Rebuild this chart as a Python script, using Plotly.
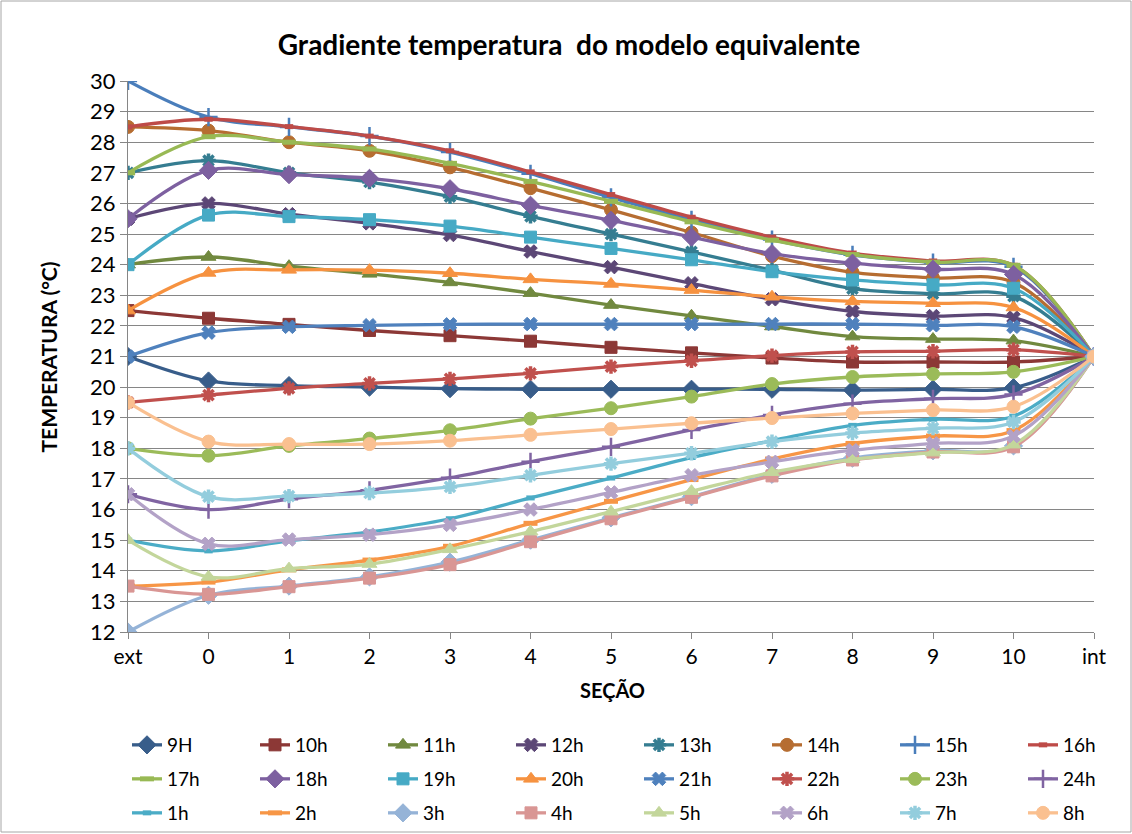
import plotly.graph_objects as go

categories = ["ext", "0", "1", "2", "3", "4", "5", "6", "7", "8", "9", "10", "int"]

series_names = ["9H", "10h", "11h", "12h", "13h", "14h", "15h", "16h",
                "17h", "18h", "19h", "20h", "21h", "22h", "23h", "24h",
                "1h", "2h", "3h", "4h", "5h", "6h", "7h", "8h"]

v_9H  = [21.0, 20.2, 20.05, 20.0, 19.95, 19.93, 19.93, 19.93, 19.93, 19.9, 19.93, 19.98, 21.0]
v_10h = [22.5, 22.25, 22.05, 21.85, 21.68, 21.5, 21.3, 21.12, 20.95, 20.82, 20.82, 20.82, 21.0]
v_11h = [24.0, 24.25, 23.95, 23.7, 23.42, 23.07, 22.68, 22.33, 21.98, 21.65, 21.57, 21.52, 21.0]
v_12h = [25.5, 26.0, 25.65, 25.35, 24.97, 24.43, 23.92, 23.39, 22.87, 22.47, 22.32, 22.27, 21.0]
v_13h = [27.0, 27.4, 27.0, 26.7, 26.22, 25.58, 25.0, 24.42, 23.82, 23.22, 23.05, 22.97, 21.0]
v_14h = [28.5, 28.38, 28.0, 27.72, 27.18, 26.5, 25.79, 25.05, 24.28, 23.75, 23.57, 23.42, 21.0]
v_15h = [30.0, 28.82, 28.5, 28.2, 27.68, 26.97, 26.2, 25.46, 24.82, 24.32, 24.07, 23.93, 21.0]
v_16h = [28.5, 28.75, 28.51, 28.2, 27.72, 27.03, 26.29, 25.55, 24.9, 24.38, 24.12, 23.98, 21.0]
v_17h = [27.0, 28.18, 28.0, 27.78, 27.31, 26.72, 26.07, 25.4, 24.8, 24.33, 24.08, 23.98, 21.0]
v_18h = [25.5, 27.08, 26.94, 26.82, 26.48, 25.94, 25.45, 24.9, 24.36, 24.05, 23.85, 23.68, 21.0]
v_19h = [24.0, 25.62, 25.57, 25.47, 25.26, 24.9, 24.53, 24.16, 23.77, 23.5, 23.34, 23.23, 21.0]
v_20h = [22.5, 23.73, 23.83, 23.82, 23.72, 23.52, 23.37, 23.17, 22.95, 22.8, 22.74, 22.6, 21.0]
v_21h = [21.0, 21.78, 21.97, 22.02, 22.05, 22.06, 22.06, 22.06, 22.06, 22.06, 22.02, 21.97, 21.0]
v_22h = [19.5, 19.74, 19.96, 20.12, 20.27, 20.45, 20.67, 20.86, 21.03, 21.15, 21.17, 21.22, 21.0]
v_23h = [18.0, 17.76, 18.08, 18.32, 18.59, 18.97, 19.31, 19.69, 20.1, 20.33, 20.43, 20.5, 21.0]
v_24h = [16.5, 16.0, 16.34, 16.63, 17.04, 17.56, 18.05, 18.6, 19.09, 19.46, 19.62, 19.76, 21.0]
v_1h  = [15.0, 14.65, 14.98, 15.27, 15.7, 16.38, 17.03, 17.7, 18.25, 18.75, 18.95, 19.05, 21.0]
v_2h  = [13.5, 13.63, 14.03, 14.35, 14.8, 15.55, 16.27, 16.98, 17.65, 18.16, 18.4, 18.58, 21.0]
v_3h  = [12.0, 13.2, 13.5, 13.8, 14.28, 15.0, 15.73, 16.42, 17.15, 17.68, 17.92, 18.08, 21.0]
v_4h  = [13.5, 13.23, 13.48, 13.76, 14.2, 14.95, 15.7, 16.4, 17.1, 17.62, 17.88, 18.05, 21.0]
v_5h  = [15.0, 13.8, 14.07, 14.22, 14.7, 15.28, 15.93, 16.6, 17.22, 17.64, 17.86, 18.12, 21.0]
v_6h  = [16.5, 14.88, 15.02, 15.18, 15.5, 16.0, 16.56, 17.12, 17.56, 17.94, 18.16, 18.4, 21.0]
v_7h  = [18.0, 16.42, 16.44, 16.54, 16.74, 17.12, 17.5, 17.84, 18.22, 18.5, 18.66, 18.86, 21.0]
v_8h  = [19.5, 18.22, 18.14, 18.14, 18.25, 18.44, 18.63, 18.82, 18.99, 19.14, 19.25, 19.36, 21.0]

series_values = [v_9H, v_10h, v_11h, v_12h, v_13h, v_14h, v_15h, v_16h,
                 v_17h, v_18h, v_19h, v_20h, v_21h, v_22h, v_23h, v_24h,
                 v_1h, v_2h, v_3h, v_4h, v_5h, v_6h, v_7h, v_8h]

colors = ["#385D8A", "#8C3836", "#71893F", "#5C4776", "#357D91", "#B66D31",
          "#4A7EBB", "#BE4B48", "#98B954", "#7D60A0", "#46AAC5", "#F69240",
          "#4F81BD", "#C0504D", "#9BBB59", "#8064A2", "#4BACC6", "#F79646",
          "#95B3D7", "#D99694", "#C3D69B", "#B3A2C7", "#93CDDD", "#FAC090"]

marker_cycle = ["diamond", "square", "triangle", "x", "star", "circle", "plus", "sdash", "ldash"]

FONT = "Lato, 'Open Sans', sans-serif"

fig = go.Figure()

for i, (name, vals, col) in enumerate(zip(series_names, series_values, colors)):
    kind = marker_cycle[i % 9]
    mk = dict(color=col, size=12, line=dict(color=col, width=1))
    if kind == "diamond":
        mk.update(symbol="diamond", size=14)
    elif kind == "square":
        mk.update(symbol="square", size=12)
    elif kind == "triangle":
        mk.update(symbol="triangle-up", size=13)
    elif kind == "x":
        mk.update(symbol="x", size=12)
    elif kind == "star":
        mk.update(symbol="asterisk-open", size=12, line=dict(color=col, width=3.5))
    elif kind == "circle":
        mk.update(symbol="circle", size=13)
    elif kind == "plus":
        mk.update(symbol="cross-thin-open", size=13, line=dict(color=col, width=2.5))
    elif kind == "sdash":
        mk.update(symbol="line-ew-open", size=6, line=dict(color=col, width=5))
    else:
        mk.update(symbol="line-ew-open", size=10, line=dict(color=col, width=5))
    row = i // 8
    fig.add_trace(go.Scatter(
        x=categories, y=vals, name=name, mode="lines+markers",
        line=dict(color=col, width=3.3, shape="spline", smoothing=1.0),
        marker=mk,
        legend=["legend", "legend2", "legend3"][row],
    ))

# geometry: plot area px 128..1094 horizontally, 81..632 vertically
L, R, T, B = 128, 38, 81, 202
W = 1132 - L - R
H = 834 - T - B

def px_x(p):
    return (p - L) / W

def px_y(p):
    return (834 - B - p) / H

legend_common = dict(orientation="h", xanchor="left", yanchor="middle",
                     entrywidth=83, entrywidthmode="pixels",
                     font=dict(family=FONT, size=19, color="#000000"),
                     bgcolor="rgba(0,0,0,0)", itemclick=False)

fig.update_layout(
    width=1132, height=834,
    margin=dict(l=L, r=R, t=T, b=B, autoexpand=False),
    paper_bgcolor="#FFFFFF", plot_bgcolor="#FFFFFF",
    font=dict(family=FONT, size=21, color="#000000"),
    title=dict(text="<b>Gradiente temperatura  do modelo equivalente</b>",
               x=569 / 1132, xref="container", xanchor="center",
               y=1 - 45 / 834, yref="container", yanchor="middle",
               font=dict(family=FONT, size=28, color="#000000")),
    showlegend=True,
    legend=dict(x=px_x(127), y=px_y(745), **legend_common),
    legend2=dict(x=px_x(127), y=px_y(779), **legend_common),
    legend3=dict(x=px_x(127), y=px_y(813), **legend_common),
    xaxis=dict(type="category", categoryorder="array", categoryarray=categories,
               range=[0, 12], showgrid=False, zeroline=False,
               showline=True, linecolor="#868686", linewidth=1,
               ticks="outside", ticklen=6, tickcolor="#868686",
               tickfont=dict(family=FONT, size=21), fixedrange=True),
    yaxis=dict(range=[12, 30], dtick=1, showgrid=True, gridcolor="#868686",
               gridwidth=1, zeroline=False, showline=True,
               linecolor="#868686", linewidth=1, ticks="outside",
               ticklen=7, tickcolor="#868686",
               tickfont=dict(family=FONT, size=22), fixedrange=True),
)

fig.add_annotation(text="<b>SEÇÃO</b>", xref="paper", yref="paper",
                   x=px_x(612), y=px_y(704), showarrow=False,
                   font=dict(family=FONT, size=20, color="#000000"))
fig.add_annotation(text="<b>TEMPERATURA (°C)</b>", xref="paper", yref="paper",
                   x=px_x(33), y=px_y(357), showarrow=False, textangle=-90,
                   font=dict(family=FONT, size=21, color="#000000"))

fig.add_shape(type="rect", xref="paper", yref="paper",
              x0=px_x(1), x1=px_x(1131), y0=px_y(832), y1=px_y(1),
              line=dict(color="#A6A6A6", width=1), layer="below")

fig.write_html("out.html", config={"displayModeBar": False})
